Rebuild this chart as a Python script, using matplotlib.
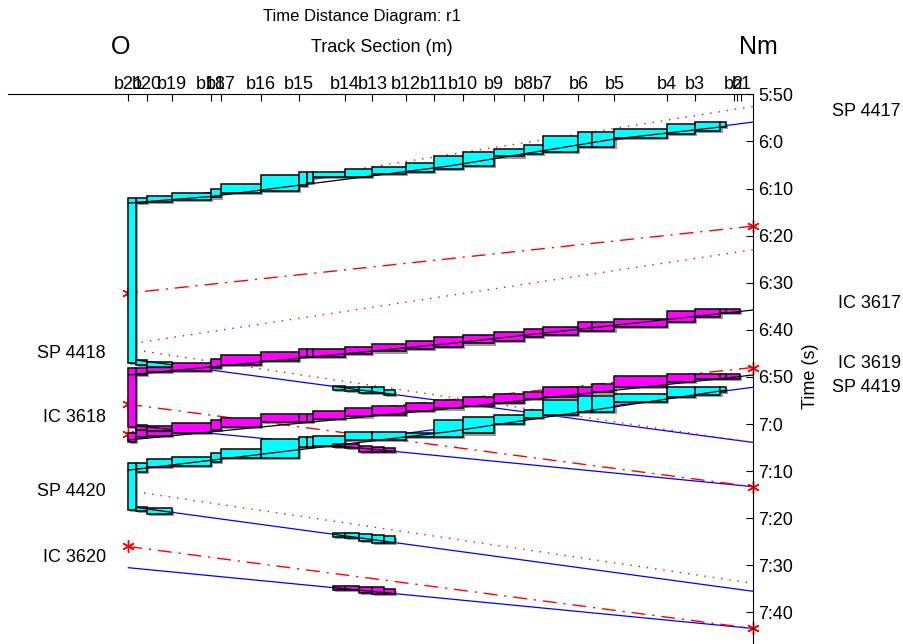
import numpy as np
import matplotlib.pyplot as plt
import matplotlib.patheffects as pe
from matplotlib.patches import Rectangle
from matplotlib.ticker import FuncFormatter

plt.rcParams['font.family'] = ['Liberation Sans', 'DejaVu Sans']
nan = np.nan

# block sections (m from O) used by the trains running Nm -> O
edges = [185, 470, 1085, 2060, 2310, 3325, 4260, 4460, 4625, 5420, 6100, 6935, 7650,
         8375, 9135, 9885, 10360, 11250, 11585, 12155, 13465, 14170, 14805, 14945, 15290]
# blocking times per section in minutes of the day (start, end)
sp4417_t0 = [372.1, 371.5, 370.9, 370.0, 369.1, 367.2, 366.6, 366.6, 366.6, 365.9, 365.4, 364.6,
             363.0, 362.3, 361.7, 360.8, 358.9, 358.0, 358.0, 357.4, 356.2, 355.9, 355.9, nan]
sp4417_t1 = [373.1, 372.8, 372.4, 371.9, 370.9, 370.5, 369.4, 368.8, 367.6, 367.6, 367.0, 366.4,
             365.8, 365.2, 363.2, 362.7, 362.2, 361.1, 361.1, 359.2, 358.5, 357.7, 356.9, nan]
ic3617_t0 = [408.2, 407.5, 407.0, 406.1, 405.4, 404.8, 404.1, 404.1, 404.1, 403.6, 403.0, 402.4,
             401.6, 401.1, 400.5, 399.9, 399.3, 398.4, 398.4, 397.6, 395.9, 395.6, 395.6, 395.6]
ic3617_t1 = [409.6, 408.9, 408.7, 408.0, 407.5, 406.6, 405.8, 405.8, 405.8, 405.1, 404.6, 404.1,
             403.7, 402.9, 402.3, 401.6, 401.0, 400.3, 400.3, 399.3, 398.3, 397.3, 396.5, 396.5]
ic3619_t0 = [421.0, 420.8, 419.8, 419.2, 418.7, 417.9, 417.9, 417.9, 417.2, 416.7, 416.2, 415.5,
             414.9, 414.3, 413.7, 413.1, 412.2, 412.2, 411.4, 409.7, 409.4, 409.4, 409.4, 409.4]
ic3619_t1 = [422.8, 422.5, 421.8, 421.3, 420.6, 419.6, 419.6, 419.6, 419.0, 418.4, 418.1, 417.2,
             416.7, 416.2, 415.5, 414.7, 414.2, 414.2, 413.3, 412.1, 411.0, 410.4, 410.4, 410.4]
sp4419_t0 = [428.3, 427.5, 426.9, 426.2, 425.4, 423.2, 422.8, 422.8, 422.5, 421.6, 421.6, 421.8,
             419.2, 418.6, 418.1, 417.0, 414.9, 414.1, 414.1, 413.7, 412.2, 412.2, 412.2, nan]
sp4419_t1 = [430.1, 429.2, 428.9, 428.0, 427.3, 427.3, 424.8, 424.8, 424.7, 423.4, 423.4, 422.7,
             422.7, 422.0, 420.0, 418.7, 418.1, 417.5, 417.5, 415.4, 414.2, 413.8, 413.1, nan]

# station track at O (0..185 m): turn-round occupation
dwell_t0 = [372.1, 408.2, 421.8, 428.3]
dwell_t1 = [407.0, 420.6, 423.8, 438.3]
dwell_col = ['cyan', 'magenta', 'magenta', 'cyan']

# trains O -> Nm, blocks near O and at b14-b12
out_x0 = [185, 470, 5125, 5420, 5770, 6100, 6385]
out_x1 = [470, 1085, 5420, 5770, 6100, 6385, 6670]
sp4418_t0 = [406.4, 406.8, 411.9, 412.1, 412.2, 412.2, 412.8]
sp4418_t1 = [407.5, 407.8, 412.8, 413.0, 413.4, 413.5, 413.8]
ic3618_t0 = [420.2, 420.4, 424.2, 424.2, 424.7, 424.8, 425.1]
ic3618_t1 = [421.3, 421.5, 424.9, 425.1, 425.9, 425.9, 425.9]
sp4420_t0 = [437.6, 437.8, 443.1, 443.1, 443.4, 443.5, 443.8]
sp4420_t1 = [438.5, 439.0, 444.0, 444.2, 444.8, 445.2, 445.2]
ic3620_t0 = [nan, nan, 454.4, 454.4, 454.6, 454.7, 455.0]
ic3620_t1 = [nan, nan, 455.2, 455.3, 455.9, 456.1, 456.1]

# actual running lines Nm -> O (x in m, t in min)
run_x = {'SP 4417': [14945, 12150, 8043, 4268, 2060, 0],
         'IC 3617': [15610, 8043, 0],
         'IC 3619': [15610, 8043, 0],
         'SP 4419': [14945, 8043, 0]}
run_t = {'SP 4417': [356.8, 359.5, 365.2, 369.3, 371.7, 373.1],
         'IC 3617': [395.8, 402.9, 409.6],
         'IC 3619': [409.6, 416.7, 423.4],
         'SP 4419': [412.8, 421.6, 429.8]}

# blue lines (realised paths), start/end
blue_x = [[15610, 0], [185, 15610], [185, 15610], [15610, 0], [185, 15610], [0, 15610]]
blue_t = [[355.9, 373.1], [406.4, 423.9], [420.4, 433.3], [412.2, 429.8], [437.7, 455.5], [450.5, 463.4]]
# planned SP paths (dotted)
sp_plan_x = [[15610, 0], [185, 15610], [15610, 185], [185, 15610]]
sp_plan_t = [[352.6, 373.6], [404.3, 423.9], [383.0, 402.8], [434.4, 453.8]]
# planned IC paths (dash-dot, star at both ends)
ic_plan_x = [[15610, 0], [0, 15610], [15610, 0], [0, 15610]]
ic_plan_t = [[378.0, 392.2], [415.8, 433.3], [408.0, 422.2], [446.0, 463.4]]

# block boundary marks on top
tick_pos = [0, 468, 1085, 2060, 2310, 3325, 4260, 5418, 6100, 6935, 7650, 8375, 9135, 9885,
            10358, 11253, 12155, 13463, 14168, 15143, 15230, 15325]
tick_names = ['b21', 'b20', 'b19', 'b18', 'b17', 'b16', 'b15', 'b14', 'b13', 'b12', 'b11',
              'b10', 'b9', 'b8', 'b7', 'b6', 'b5', 'b4', 'b3', 'b2', '', 'b1']

fig = plt.figure(figsize=(9.04, 6.44), dpi=100)
ax = fig.add_axes([8.3 / 904, 0, 744.4 / 904, 549.7 / 644])

shadow = [pe.SimplePatchShadow(offset=(1.5, -1.5), shadow_rgbFace='0.35', alpha=0.6), pe.Normal()]


def block(x0, x1, t0, t1, col):
    r = Rectangle((x0, t0 * 60), x1 - x0, (t1 - t0) * 60, facecolor=col, edgecolor='black',
                  lw=1.1, zorder=3, path_effects=shadow)
    ax.add_patch(r)
    return r


# reference lines under the blocks
for xs, ts in zip(blue_x, blue_t):
    ax.plot(xs, np.array(ts) * 60, color='blue', lw=0.9, zorder=2)
for xs, ts in zip(sp_plan_x, sp_plan_t):
    ax.plot(xs, np.array(ts) * 60, color='red', lw=1, ls=(0, (1, 5)), zorder=2)
for xs, ts in zip(ic_plan_x, ic_plan_t):
    ax.plot(xs, np.array(ts) * 60, color='red', lw=1, ls=(0, (10, 5, 1.5, 5)), zorder=2)
    ax.plot(xs, np.array(ts) * 60, ls='none', marker=(6, 2, 0), ms=9, mew=1, color='red',
            zorder=2.5, clip_on=False)

# Nm -> O trains
for t0, t1, col in [(sp4417_t0, sp4417_t1, 'cyan'), (ic3617_t0, ic3617_t1, 'magenta'),
                    (ic3619_t0, ic3619_t1, 'magenta'), (sp4419_t0, sp4419_t1, 'cyan')]:
    for i in range(len(t0)):
        if not np.isnan(t0[i]):
            block(edges[i], edges[i + 1], t0[i], t1[i], col)
for k in run_x:
    ax.plot(run_x[k], np.array(run_t[k]) * 60, color='black', lw=0.9, zorder=4)

for t0, t1, col in zip(dwell_t0, dwell_t1, dwell_col):
    block(0, 185, t0, t1, col)

# O -> Nm trains, running line shown inside the blocks
for t0, t1, col, bi in [(sp4418_t0, sp4418_t1, 'cyan', 1), (ic3618_t0, ic3618_t1, 'magenta', 2),
                        (sp4420_t0, sp4420_t1, 'cyan', 4), (ic3620_t0, ic3620_t1, 'magenta', 5)]:
    for i in range(len(t0)):
        if np.isnan(t0[i]):
            continue
        r = block(out_x0[i], out_x1[i], t0[i], t1[i], col)
        ln, = ax.plot(blue_x[bi], np.array(blue_t[bi]) * 60, color='black', lw=0.9, zorder=4)
        ln.set_clip_path(r)

ax.set_xlim(-3000, 15610)
ax.set_ylim(466.7 * 60, 350 * 60)
ax.spines['left'].set_visible(False)
ax.spines['bottom'].set_visible(False)
ax.xaxis.set_ticks_position('top')
ax.yaxis.set_ticks_position('right')
ax.set_xticks(tick_pos)
ax.set_xticklabels(tick_names)
ax.set_yticks(np.arange(350, 461, 10) * 60)
ax.yaxis.set_major_formatter(FuncFormatter(lambda v, p: f"{int(v // 3600)}:{int(v % 3600 // 60)}"))
ax.tick_params(axis='x', direction='in', length=5, pad=1, labelsize=13)
ax.tick_params(axis='y', direction='in', length=5, pad=4, labelsize=13)

fig.text(362 / 904, 1 - 17 / 644, 'Time Distance Diagram: r1', ha='center', va='center', fontsize=12)
fig.text(121 / 904, 1 - 47 / 644, 'O', ha='center', va='center', fontsize=18)
fig.text(382 / 904, 1 - 47 / 644, 'Track Section (m)', ha='center', va='center', fontsize=13)
fig.text(758 / 904, 1 - 47 / 644, 'Nm', ha='center', va='center', fontsize=18)
fig.text(811 / 904, 1 - 376 / 644, 'Time (s)', ha='center', va='center', rotation=90, fontsize=13)

right_names = ['SP 4417', 'IC 3617', 'IC 3619', 'SP 4419']
right_y = [112, 304, 363, 388]
for s, y in zip(right_names, right_y):
    fig.text(901 / 904, 1 - y / 644, s, ha='right', va='center', fontsize=13)
left_names = ['SP 4418', 'IC 3618', 'SP 4420', 'IC 3620']
left_y = [353, 418, 492, 557]
for s, y in zip(left_names, left_y):
    fig.text(106 / 904, 1 - y / 644, s, ha='right', va='center', fontsize=13)

plt.savefig('out.png', dpi=100)
